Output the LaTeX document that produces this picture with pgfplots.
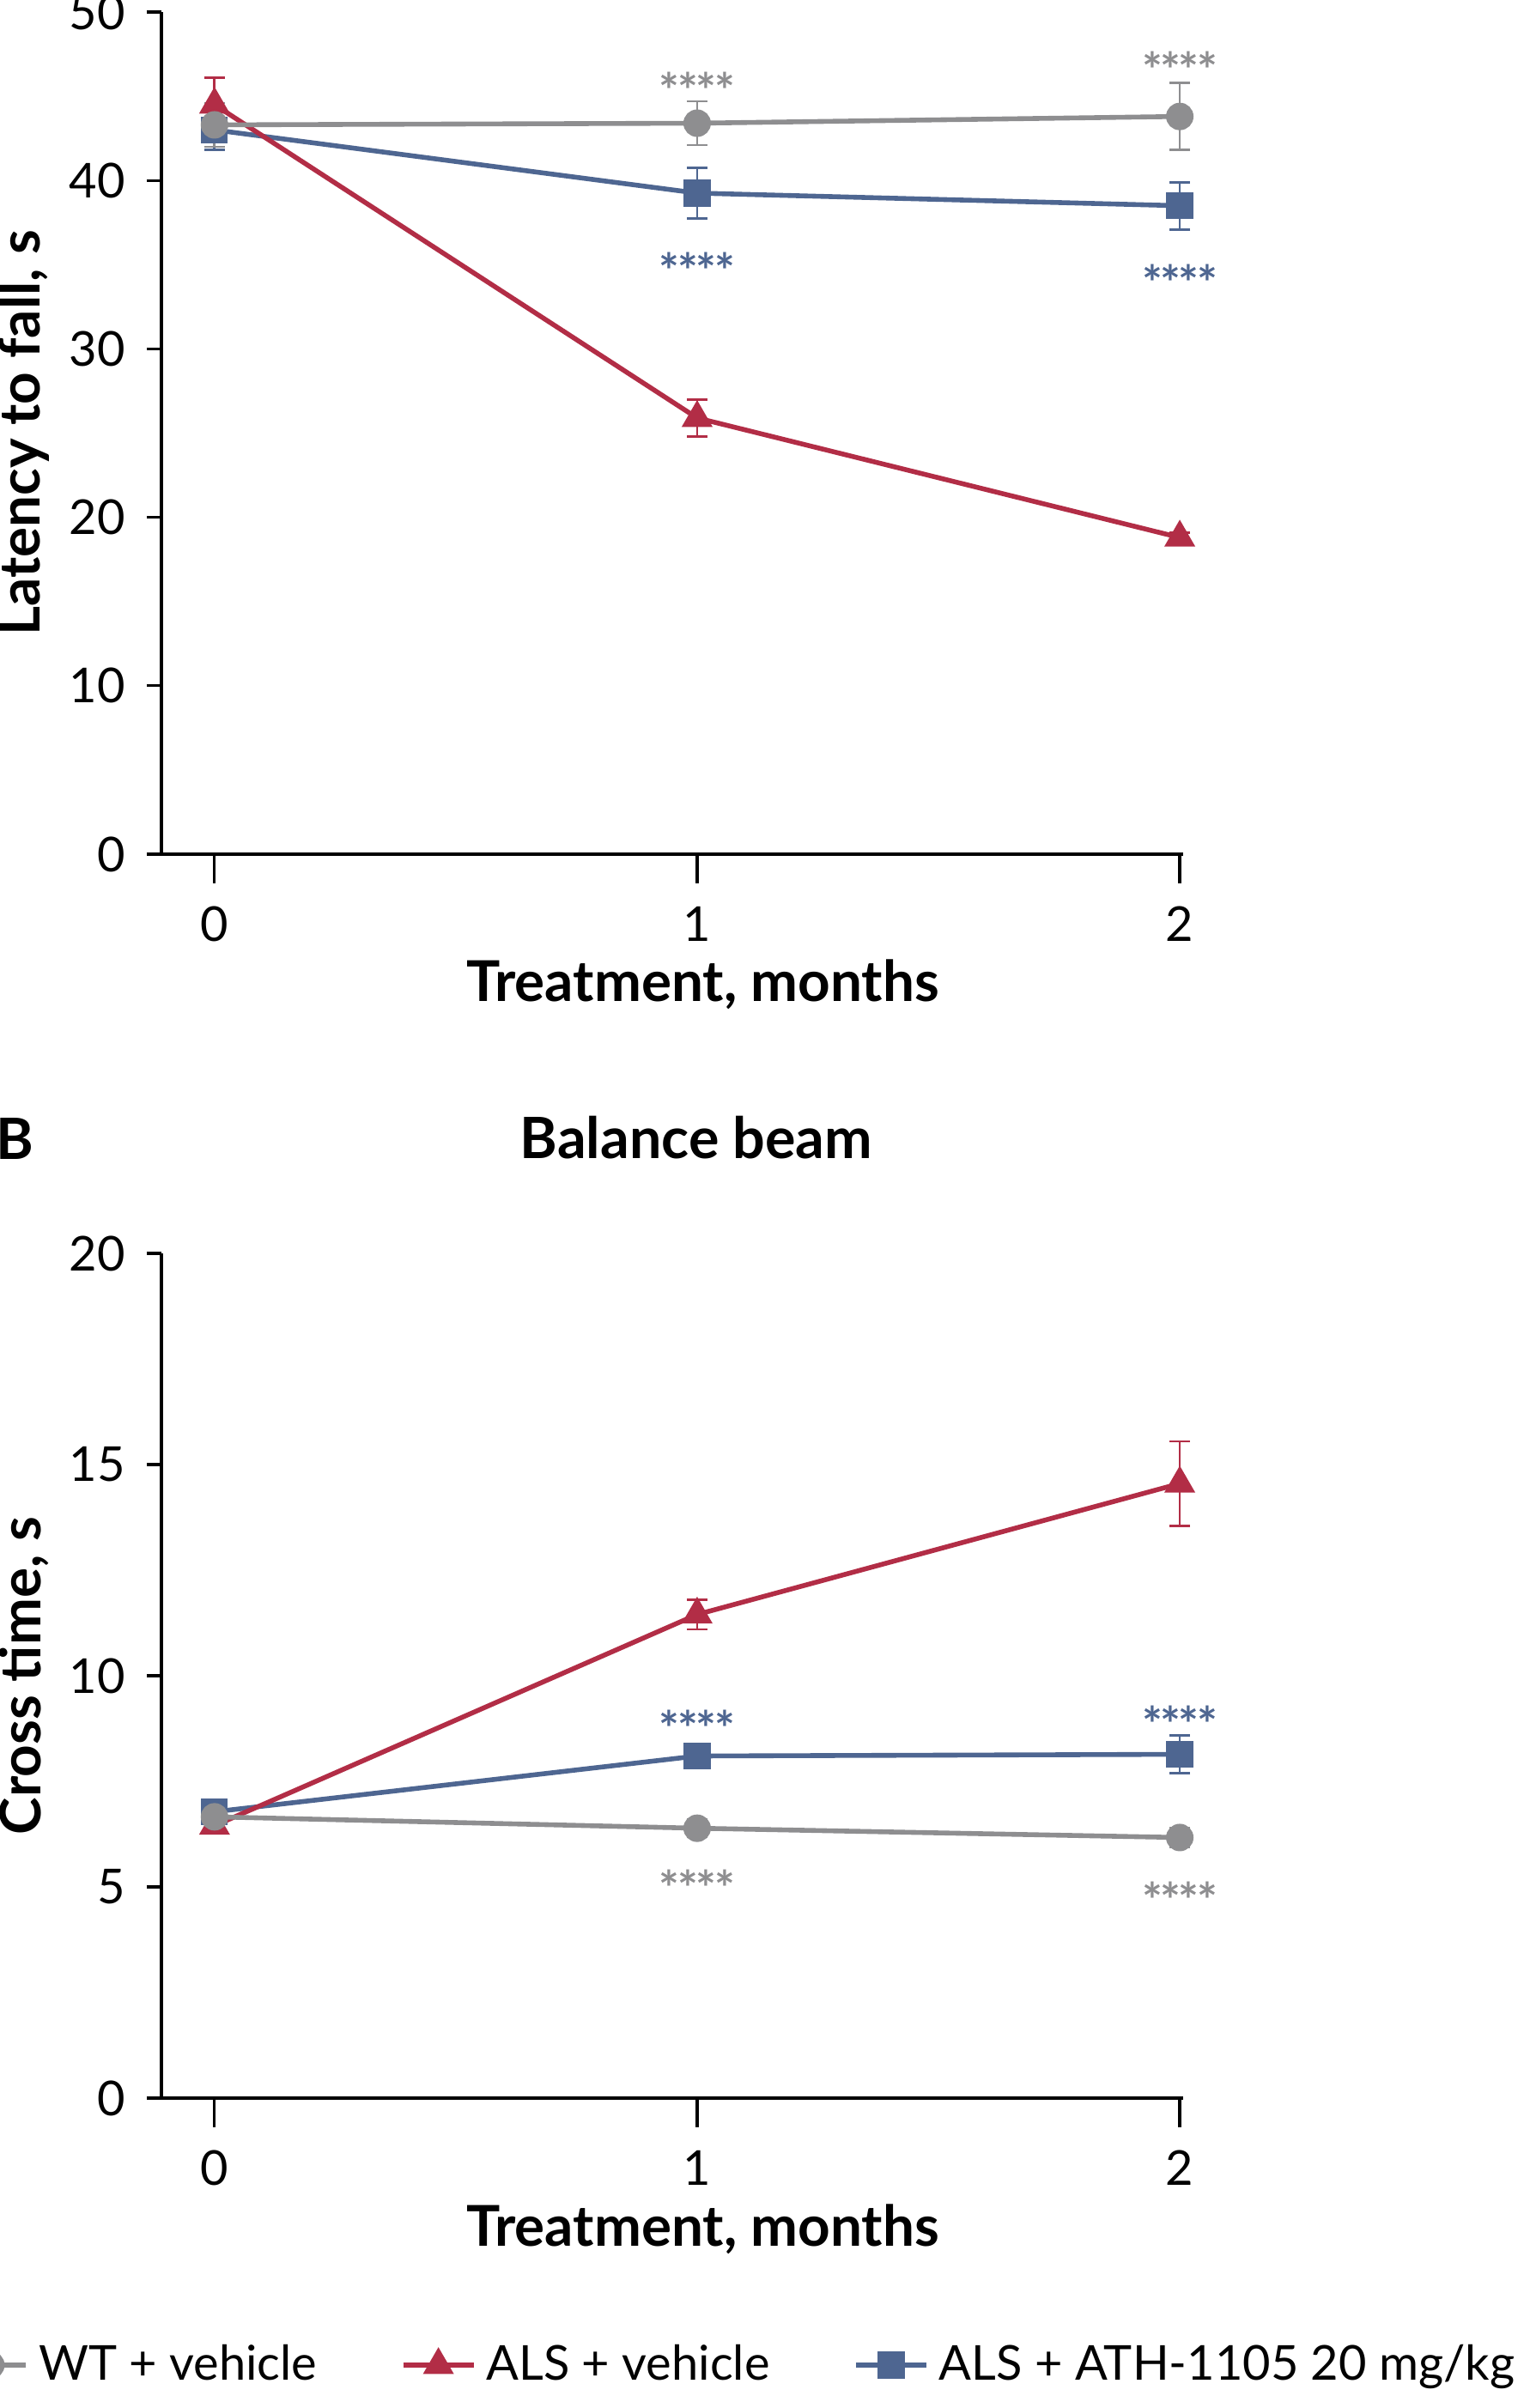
\documentclass[border=0pt]{standalone}
\usepackage{pgfplots}
\pgfplotsset{compat=1.18}
\usepackage{fontspec}
\setmainfont{Lato}
\definecolor{cgray}{HTML}{8E8E90}
\definecolor{cred}{HTML}{B22D46}
\definecolor{cblue}{HTML}{4E6691}
\tikzset{stars/.style={font=\bfseries\fontsize{14}{16}\selectfont, anchor=center, inner sep=0pt, yshift=-2.7pt}}
\newcommand{\fs}{*\kern-0.6pt*\kern-0.6pt*\kern-0.6pt*}
\pgfplotsset{
 panel/.style={
  scale only axis, width=297.5pt,
  xmin=-0.110, xmax=2.007,
  axis x line=bottom, axis y line=left,
  axis line style={-, line width=0.8pt, black},
  xtick={0,1,2},
  tick align=outside,
  major tick length=4.3pt,
  tick style={line width=0.8pt, black},
  xtick style={/pgfplots/major tick length=8.5pt},
  /pgf/number format/assume math mode=true,
  ticklabel style={font=\fontsize{14}{16}\selectfont},
  xticklabel style={yshift=-7.5pt},
  yticklabel style={xshift=-2.7pt},
  label style={font=\bfseries\fontsize{16.4}{18}\selectfont},
  xlabel={Treatment, months},
  xlabel style={at={(axis description cs:0.53,-0.155)}, anchor=center},
  ylabel style={at={(axis description cs:-0.135,0.5)}, anchor=center},
  clip=false,
  every axis plot/.append style={line width=1.4pt},
 },
 eb/.style={error bars/.cd, y dir=both, y explicit,
   error bar style={line width=0.7pt, solid},
   error mark options={rotate=90, mark size=3pt, line width=0.7pt}},
 sgray/.style={color=cgray, mark=*, mark size=3.3pt, mark options={solid, fill=cgray, draw=cgray}},
 sred/.style={color=cred, mark=triangle*, mark size=3.8pt, mark options={solid, fill=cred, draw=cred}},
 sblue/.style={color=cblue, mark=square*, mark size=3.2pt, mark options={solid, fill=cblue, draw=cblue}},
}
\begin{document}
\begin{tikzpicture}
% Panel A: Latency to fall
\begin{axis}[panel, at={(47pt,-248.75pt)}, anchor=south west,
  height=245.25pt, ymin=0, ymax=50, ytick={0,10,...,50},
  ylabel={Latency to fall, s}]
\addplot[sblue, eb] coordinates {(0,43.0) +- (0,1.2) (1,39.25) +- (0,1.5) (2,38.5) +- (0,1.4)};
\addplot[sred, eb] coordinates {(0,44.5) +- (0,1.6) (1,25.9) +- (0,1.1) (2,18.8) +- (0,0.3)};
\addplot[sgray, eb] coordinates {(0,43.3) +- (0,1.3) (1,43.4) +- (0,1.3) (2,43.8) +- (0,2.0)};
\node[stars, text=cgray] at (axis cs:1,45.9) {\fs};
\node[stars, text=cgray] at (axis cs:2,47.1) {\fs};
\node[stars, text=cblue] at (axis cs:1,35.2) {\fs};
\node[stars, text=cblue] at (axis cs:2,34.5) {\fs};
\end{axis}
% Panel B: Balance beam
\begin{axis}[panel, at={(47pt,-611pt)}, anchor=south west,
  height=246pt, ymin=0, ymax=20, ytick={0,5,...,20},
  ylabel={Cross time, s},
  title={Balance beam},
  title style={at={(axis description cs:0.5235,1.113)}, anchor=center, font=\bfseries\fontsize{16.6}{18}\selectfont},
  reverse legend,
  legend columns=3,
  legend cell align=left,
  legend style={at={(axis description cs:-0.2044,-0.316)}, anchor=west, draw=none, fill=none, inner sep=0pt,
    font=\fontsize{14}{16}\selectfont,
    /tikz/every odd column/.append style={column sep=1.0pt},
    /tikz/every even column/.append style={column sep=22.4pt}},
  legend image code/.code={\draw[mark repeat=2,mark phase=2] plot coordinates {(0pt,0pt)(10.25pt,0pt)(20.5pt,0pt)};}]
\addplot[sblue, eb] coordinates {(0,6.78) +- (0,0.2) (1,8.1) +- (0,0.27) (2,8.14) +- (0,0.45)};
\addlegendentry{ALS + ATH-1105 20 mg/kg}
\addplot[sred, eb] coordinates {(0,6.45) +- (0,0.15) (1,11.45) +- (0,0.35) (2,14.55) +- (0,1.0)};
\addlegendentry{ALS + vehicle}
\addplot[sgray, eb] coordinates {(0,6.66) +- (0,0.15) (1,6.39) +- (0,0.2) (2,6.17) +- (0,0.22)};
\addlegendentry{WT + vehicle}
\node[stars, text=cblue] at (axis cs:1,8.98) {\fs};
\node[stars, text=cblue] at (axis cs:2,9.07) {\fs};
\node[stars, text=cgray] at (axis cs:1,5.19) {\fs};
\node[stars, text=cgray] at (axis cs:2,4.9) {\fs};
\node[font=\bfseries\fontsize{16.6}{18}\selectfont, anchor=center] at (axis description cs:-0.143,1.136) {B};
\end{axis}
\pgfresetboundingbox
\path[use as bounding box] (0,0) rectangle (443.75pt,-701.25pt);
\end{tikzpicture}
\end{document}
